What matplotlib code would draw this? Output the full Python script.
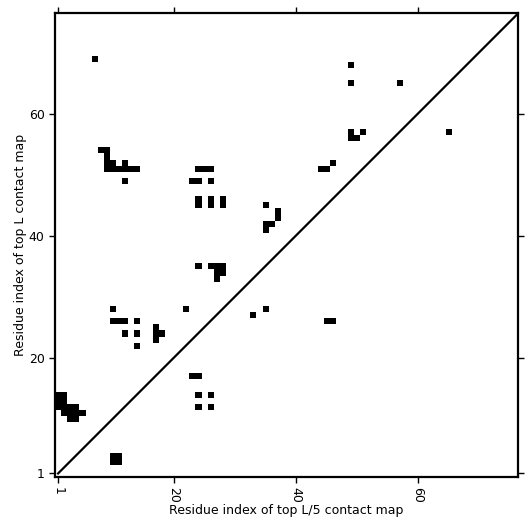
import numpy as np
import matplotlib
matplotlib.use("Agg")
import matplotlib.pyplot as plt

L = 76
tick_labels = [1, 20, 40, 60]

# contact cells as (x residue, y residue), 1-based
contact_x = [7,
             8, 9,
             9,
             9, 10, 12,
             9, 10, 11, 12, 13, 14,
             12,
             24, 25, 26,
             23, 24, 26,
             49,
             49, 57,
             49, 49, 50, 51,
             65,
             46,
             44, 45,
             24, 24, 26, 26, 28, 28,
             24,
             26, 27, 28, 27, 28, 27,
             10, 22,
             10, 11, 12, 14,
             12, 14,
             17, 17, 17, 18,
             14,
             23, 24,
             24, 26, 24, 26,
             1, 2, 1, 2, 1, 2, 3, 4, 2, 3, 4, 5, 3, 4,
             10, 11, 10, 11,
             35, 37, 37, 35, 36, 35,
             35, 33, 45, 46]
contact_y = [69,
             54, 54,
             53,
             52, 52, 52,
             51, 51, 51, 51, 51, 51,
             49,
             51, 51, 51,
             49, 49, 49,
             68,
             65, 65,
             57, 56, 56, 57,
             57,
             52,
             51, 51,
             46, 45, 46, 45, 46, 45,
             35,
             35, 35, 35, 34, 34, 33,
             28, 28,
             26, 26, 26, 26,
             24, 24,
             25, 24, 23, 24,
             22,
             17, 17,
             14, 14, 12, 12,
             14, 14, 13, 13, 12, 12, 12, 12, 11, 11, 11, 11, 10, 10,
             3, 3, 4, 4,
             45, 44, 43, 42, 42, 41,
             28, 27, 26, 26]

M = np.zeros((L, L))
for xr, yr in zip(contact_x, contact_y):
    M[yr - 1, xr - 1] = 1

fig = plt.figure(figsize=(5.31, 5.31), dpi=100)
ax = fig.add_axes([0.1036, 0.1026, 0.872, 0.872])
ax.imshow(M, origin="lower", cmap="Greys", vmin=0, vmax=1,
          interpolation="nearest", aspect="auto")
ax.plot([0, L - 0.5], [0, L - 0.5], color="black", lw=1.6)
ax.set_xlim(-0.5, L - 0.5)
ax.set_ylim(-0.5, L - 0.5)

pos = [t - 1 for t in tick_labels]
ax.set_xticks(pos)
ax.set_xticklabels([str(t) for t in tick_labels], rotation=270)
ax.set_yticks(pos)
ax.set_yticklabels([str(t) for t in tick_labels])
ax.tick_params(direction="out", length=4, width=1, top=True, right=True,
               labelsize=9)
for s in ax.spines.values():
    s.set_linewidth(1.6)

ax.set_xlabel("Residue index of top L/5 contact map", fontsize=9, labelpad=1)
ax.set_ylabel("Residue index of top L contact map", fontsize=9, labelpad=1)

fig.savefig("out.png", dpi=100)
